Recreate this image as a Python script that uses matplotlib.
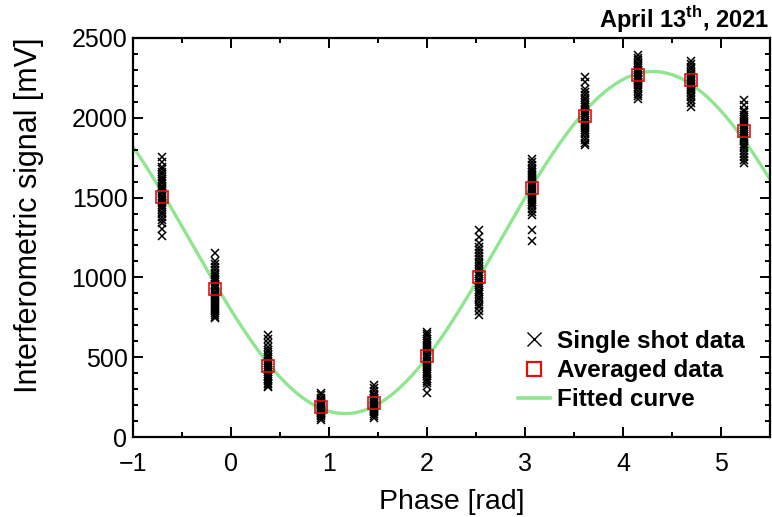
import numpy as np
import matplotlib
matplotlib.use("Agg")
import matplotlib.pyplot as plt
from matplotlib.lines import Line2D
from matplotlib.ticker import MultipleLocator

plt.rcParams['font.family'] = ['Liberation Sans', 'DejaVu Sans']
plt.rcParams['mathtext.fontset'] = 'custom'
plt.rcParams['mathtext.rm'] = 'Liberation Sans'
plt.rcParams['mathtext.bf'] = 'Liberation Sans:bold'

# phase of each measurement step [rad]
phase = [-0.70, -0.16, 0.38, 0.92, 1.46, 2.00, 2.53, 3.07, 3.61, 4.15, 4.69, 5.23]

# averaged signal at each phase [mV]
averaged = [1504, 927, 447, 186, 211, 508, 1004, 1560, 2013, 2270, 2235, 1917]

# single shot signals at each phase [mV]
shots = [
    [1754, 1722, 1694, 1680, 1661, 1648, 1630, 1618, 1603, 1590, 1574, 1566, 1551, 1540,
     1527, 1512, 1505, 1491, 1480, 1466, 1451, 1443, 1428, 1410, 1398, 1381, 1362, 1338, 1301, 1262],
    [1151, 1102, 1083, 1064, 1048, 1030, 1016, 1002, 990, 976, 961, 950, 937, 925,
     911, 900, 888, 876, 862, 850, 838, 826, 814, 801, 790, 778, 766, 752, 744],
    [639, 612, 586, 562, 548, 531, 517, 502, 490, 478, 465, 452, 441, 430,
     418, 407, 396, 385, 374, 363, 352, 341, 332, 322, 315],
    [278, 262, 246, 236, 228, 220, 212, 205, 199, 192, 186, 180, 174, 168,
     162, 156, 150, 144, 138, 130, 120, 108],
    [326, 305, 288, 272, 262, 254, 246, 238, 230, 223, 216, 209, 202, 196,
     190, 184, 178, 171, 164, 156, 146, 132, 119],
    [660, 648, 631, 616, 602, 589, 575, 561, 549, 536, 523, 511, 499, 487,
     475, 463, 451, 439, 428, 416, 404, 392, 380, 366, 352, 338, 322, 274],
    [1297, 1252, 1214, 1192, 1170, 1150, 1132, 1115, 1098, 1082, 1066, 1051, 1036, 1021,
     1007, 993, 979, 965, 951, 937, 922, 908, 893, 878, 862, 846, 829, 812, 790, 764],
    [1740, 1721, 1703, 1688, 1674, 1660, 1647, 1634, 1621, 1608, 1596, 1584, 1572, 1560,
     1548, 1536, 1524, 1512, 1500, 1487, 1474, 1460, 1446, 1430, 1412, 1390, 1297, 1230],
    [2257, 2225, 2178, 2160, 2142, 2126, 2110, 2095, 2081, 2067, 2054, 2041, 2028, 2015,
     2002, 1989, 1976, 1963, 1950, 1937, 1924, 1910, 1896, 1880, 1862, 1845, 1830],
    [2392, 2376, 2360, 2346, 2334, 2322, 2311, 2300, 2290, 2280, 2271, 2262, 2253, 2244,
     2235, 2226, 2217, 2207, 2196, 2184, 2170, 2152, 2134, 2116],
    [2358, 2336, 2318, 2303, 2290, 2278, 2267, 2257, 2247, 2238, 2229, 2220, 2211, 2202,
     2193, 2183, 2172, 2160, 2146, 2130, 2110, 2090, 2070],
    [2111, 2080, 2052, 2034, 2018, 2003, 1990, 1977, 1965, 1953, 1942, 1931, 1920, 1909,
     1898, 1887, 1876, 1864, 1852, 1839, 1825, 1810, 1793, 1774, 1752, 1734, 1715],
]

# sinusoidal fit a + b*cos(x) + c*sin(x) to the averaged data
ph = np.array(phase)
A = np.column_stack([np.ones_like(ph), np.cos(ph), np.sin(ph)])
coef, *_ = np.linalg.lstsq(A, np.array(averaged, dtype=float), rcond=None)
xf = np.linspace(-1, 5.5, 400)
yf = coef[0] + coef[1] * np.cos(xf) + coef[2] * np.sin(xf)

fig = plt.figure(figsize=(7.72, 5.17), dpi=100)
ax = fig.add_axes([0.1723, 0.1547, 0.8251, 0.7718])

sx = np.concatenate([[p] * len(s) for p, s in zip(phase, shots)])
sy = np.concatenate(shots)
ax.plot(xf, yf, color='#8ee68e', lw=2.4, zorder=1)
ax.plot(sx, sy, 'x', color='black', ms=6, mew=1.1, zorder=2)
ax.plot(phase, averaged, 's', mfc='none', mec='#e01010', ms=9, mew=1.2, zorder=3)

ax.set_xlim(-1, 5.5)
ax.set_ylim(0, 2500)
ax.xaxis.set_major_locator(MultipleLocator(1))
ax.xaxis.set_minor_locator(MultipleLocator(0.5))
ax.yaxis.set_major_locator(MultipleLocator(500))
ax.yaxis.set_minor_locator(MultipleLocator(100))
ax.tick_params(which='both', direction='in', top=True, right=True, width=1.4)
ax.tick_params(which='major', length=7, labelsize=18)
ax.tick_params(axis='x', which='major', pad=11)
ax.tick_params(axis='y', which='major', pad=4)
ax.tick_params(which='minor', length=3.5)
for sp in ax.spines.values():
    sp.set_linewidth(1.6)

ax.set_xticks([-1, 0, 1, 2, 3, 4, 5])
ax.set_xticklabels(['\u22121', '0', '1', '2', '3', '4', '5'])
ax.set_xlabel('Phase [rad]', fontsize=20.5, labelpad=9)
ax.set_ylabel('Interferometric signal [mV]', fontsize=22)
ax.yaxis.set_label_coords(-0.14, 0.555)

# legend handles with their own marker sizes
handles = [
    Line2D([], [], ls='none', marker='x', color='black', ms=10, mew=1.0),
    Line2D([], [], ls='none', marker='s', mfc='none', mec='#e01010', ms=10, mew=1.6),
    Line2D([], [], color='#8ee68e', lw=2.6),
]
labels = ['Single shot data', 'Averaged data', 'Fitted curve']
ax.legend(handles, labels, loc='lower right', frameon=False,
          prop={'weight': 'bold', 'size': 17.5}, bbox_to_anchor=(0.995, 0.01),
          handlelength=1.3, handletextpad=0.3, labelspacing=0.25)

fig.text(0.997, 0.945, r'April 13$^{\mathbf{th}}$, 2021', ha='right', va='baseline',
         fontsize=17, fontweight='bold')

fig.savefig('out.png', dpi=100)
